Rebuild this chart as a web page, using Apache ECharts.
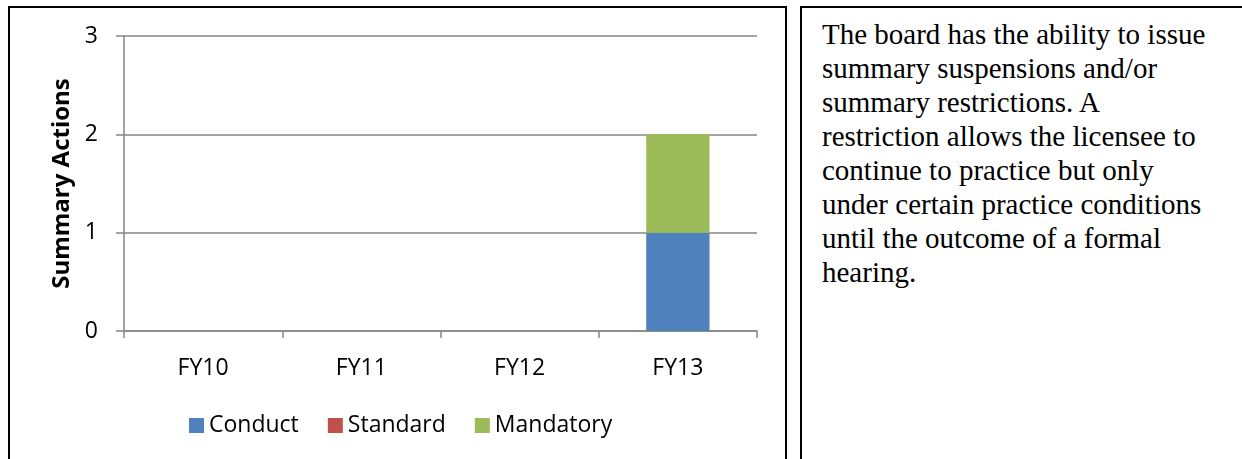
<!DOCTYPE html>
<html>
<head>
<meta charset="utf-8">
<script src="https://cdn.jsdelivr.net/npm/echarts@6/dist/echarts.min.js"></script>
<style>
  html, body {
    margin: 0;
    padding: 0;
    width: 1242px;
    height: 459px;
    overflow: hidden;
    background: #ffffff;
  }
  .chart-box {
    position: absolute;
    left: 8px;
    top: 6px;
    width: 775px;
    height: 470px;
    border: 2px solid #000000;
  }
  .note-box {
    position: absolute;
    left: 800px;
    top: 6px;
    width: 460px;
    height: 470px;
    border: 2px solid #000000;
  }
  .note-text {
    position: absolute;
    left: 20px;
    top: 9px;
    font-family: "Liberation Serif", "DejaVu Serif", serif;
    font-size: 29px;
    line-height: 34px;
    color: #000000;
    white-space: nowrap;
  }
  #chart {
    position: absolute;
    left: 0;
    top: 0;
    width: 787px;
    height: 459px;
  }
</style>
</head>
<body>
<div class="chart-box"></div>
<div class="note-box">
  <div class="note-text">The board has the ability to issue<br>summary suspensions and/or<br>summary restrictions. A<br>restriction allows the licensee to<br>continue to practice but only<br>under certain practice conditions<br>until the outcome of a formal<br>hearing.</div>
</div>
<div id="chart"></div>
<script>
  // data
  const categories = ['FY10', 'FY11', 'FY12', 'FY13']
  const conduct = [0, 0, 0, 1]
  const standard = [0, 0, 0, 0]
  const mandatory = [0, 0, 0, 1]
  const yTicks = [0, 1, 2, 3]

  const font = '"Open Sans", "Liberation Sans", sans-serif'
  const gridColor = '#878787'

  const chart = echarts.init(document.getElementById('chart'))

  const option = {
    animation: false,
    textStyle: {
      fontFamily: font
    },
    grid: {
      left: 124,
      top: 36,
      width: 633,
      height: 295
    },
    legend: {
      left: 184,
      top: 409,
      itemWidth: 15,
      itemHeight: 15,
      itemGap: 29,
      icon: 'rect',
      textStyle: {
        fontFamily: font,
        fontSize: 23,
        color: '#000000'
      },
      data: ['Conduct', 'Standard', 'Mandatory']
    },
    xAxis: {
      type: 'category',
      data: categories,
      axisLine: {
        lineStyle: { color: gridColor, width: 1.5 }
      },
      axisTick: {
        show: true,
        length: 7,
        lineStyle: { color: gridColor, width: 1.5 }
      },
      axisLabel: {
        color: '#000000',
        fontSize: 23,
        margin: 26
      }
    },
    yAxis: {
      type: 'value',
      min: yTicks[0],
      max: yTicks[yTicks.length - 1],
      interval: 1,
      name: 'Summary Actions',
      nameLocation: 'middle',
      nameGap: 48,
      nameRotate: 90,
      nameTextStyle: {
        color: '#000000',
        fontSize: 24,
        fontWeight: 'bold',
        fontFamily: font
      },
      axisLine: {
        show: true,
        lineStyle: { color: gridColor, width: 1.5 }
      },
      axisTick: {
        show: true,
        length: 8,
        lineStyle: { color: gridColor, width: 1.5 }
      },
      axisLabel: {
        color: '#000000',
        fontSize: 23,
        margin: 26
      },
      splitLine: {
        lineStyle: { color: gridColor, width: 1.5 }
      }
    },
    series: [
      {
        name: 'Conduct',
        type: 'bar',
        stack: 'total',
        barCategoryGap: '60%',
        itemStyle: { color: '#4F81BD' },
        data: conduct
      },
      {
        name: 'Standard',
        type: 'bar',
        stack: 'total',
        itemStyle: { color: '#C0504D' },
        data: standard
      },
      {
        name: 'Mandatory',
        type: 'bar',
        stack: 'total',
        itemStyle: { color: '#9BBB59' },
        data: mandatory
      }
    ]
  }

  chart.setOption(option)
</script>
</body>
</html>
